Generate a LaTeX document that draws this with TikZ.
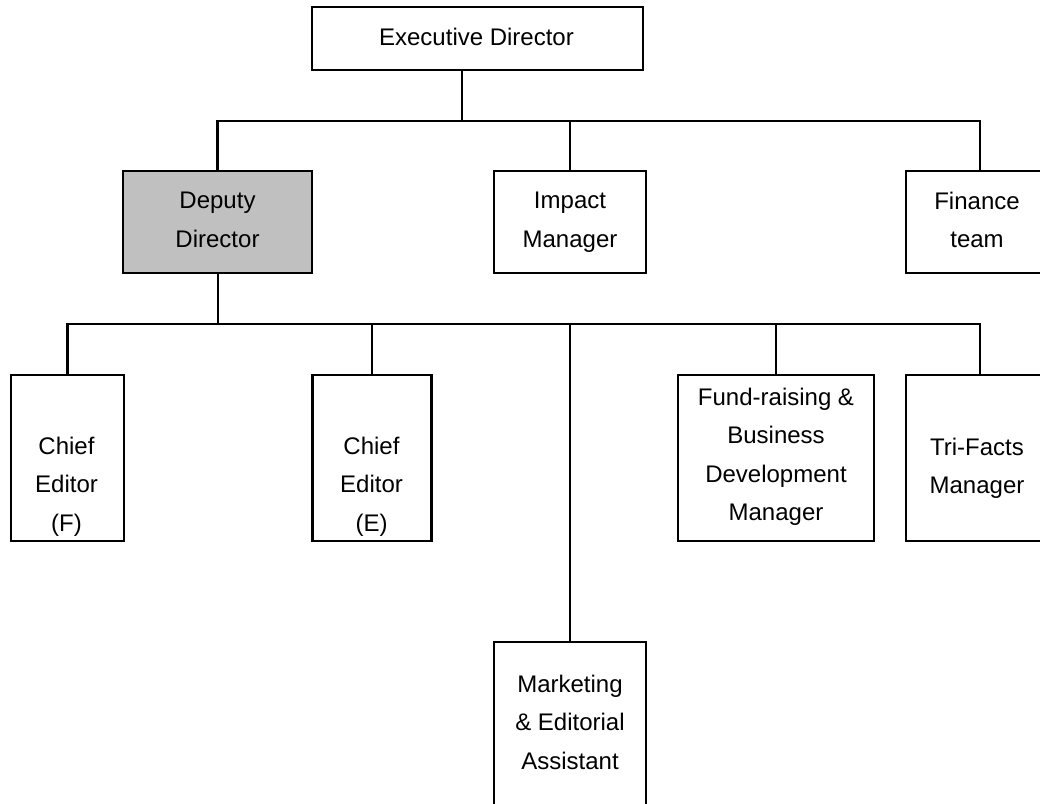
\documentclass[tikz,border=0pt]{standalone}
\usepackage{fontspec}
\setmainfont{Liberation Sans}
\definecolor{boxgray}{HTML}{C0C0C0}
\begin{document}
\begin{tikzpicture}[x=1pt,y=1pt,
  orgbox/.style={draw=black,line width=2.7pt,rectangle,inner sep=0pt,minimum width=#1},
  orgtext/.style={anchor=north,inner sep=0pt,align=center,font=\fontsize{24}{38.3}\selectfont},
  conn/.style={draw=black,line width=2.7pt}]
\useasboundingbox (0,0) rectangle (1040,-803);
\clip (0,0) rectangle (1040,-803);
\fill[white] (0,0) rectangle (1040,-803);
% boxes
\node[orgbox=331pt,minimum height=63pt] (exec) at (477.5,-38.5) {};
\node[orgbox=189pt,minimum height=102pt,fill=boxgray] (deputy) at (217.5,-222) {};
\node[orgbox=152pt,minimum height=102pt] (impact) at (570,-222) {};
\node[orgbox=148pt,minimum height=102pt] (finance) at (980,-222) {};
\node[orgbox=113pt,minimum height=166pt] (chiefF) at (67.5,-458) {};
\node[orgbox=119pt,minimum height=166pt] (chiefE) at (372,-458) {};
\node[orgbox=196pt,minimum height=166pt] (fund) at (776,-458) {};
\node[orgbox=148pt,minimum height=166pt] (trifacts) at (980,-458) {};
\node[orgbox=152pt,minimum height=180pt] (market) at (570,-732) {};
% texts
\node[orgtext] (texec) at (476.5,-28) {Executive Director};
\node[orgtext] (tdeputy) at (217.5,-192) {Deputy\\Director};
\node[orgtext] (timpact) at (570,-192) {Impact\\Manager};
\node[orgtext] (tfinance) at (977,-192) {Finance\\team};
\node[orgtext] (tchiefF) at (66.5,-437) {Chief\\Editor\\(F)};
\node[orgtext] (tchiefE) at (371.5,-437) {Chief\\Editor\\(E)};
\node[orgtext] (tfund) at (776,-388) {Fund-raising \&\\Business\\Development\\Manager};
\node[orgtext] (ttrifacts) at (977,-438) {Tri-Facts\\Manager};
\node[orgtext] (tmarket) at (570,-675) {Marketing\\\& Editorial\\Assistant};
% junctions
\coordinate (j1) at (462,-121);
\coordinate (j2) at (218,-324);
% connectors
\draw[conn] (exec.south -| j1) -- (j1);
\draw[conn] (deputy.north) |- (j1) -| (finance.north);
\draw[conn] (j1 -| impact.north) -- (impact.north);
\draw[conn] (deputy.south -| j2) -- (j2);
\draw[conn] (chiefF.north) |- (j2) -| (trifacts.north);
\draw[conn] (j2 -| chiefE.north) -- (chiefE.north);
\draw[conn] (j2 -| market.north) -- (market.north);
\draw[conn] (j2 -| fund.north) -- (fund.north);
\end{tikzpicture}
\end{document}
